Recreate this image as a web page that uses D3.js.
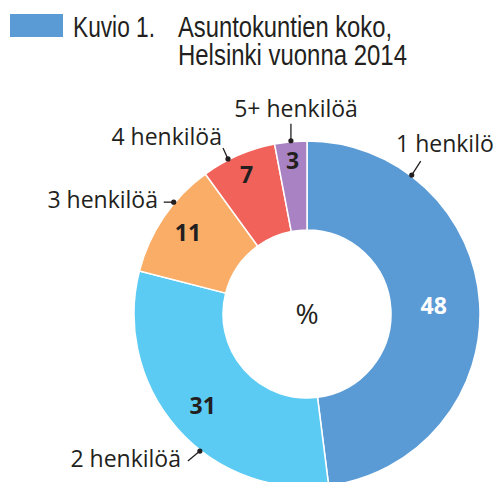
<!DOCTYPE html>
<html lang="fi">
<head>
<meta charset="UTF-8">
<title>Asuntokuntien koko</title>
<script src="https://cdn.jsdelivr.net/npm/d3@7"></script>
<style>
    body { margin: 0; background: #fff; }
    svg { display: block; }
    .title { font-family: "Liberation Sans Narrow", "Liberation Sans", Arial, sans-serif; font-size: 30px; fill: #231f20; }
    .lbl { font-family: "Open Sans", "Noto Sans", sans-serif; font-size: 23px; fill: #231f20; }
    .val { font-family: "Open Sans", "Noto Sans", sans-serif; font-size: 23px; font-weight: bold; }
</style>
</head>
<body>
<svg id="chart" width="493" height="482"></svg>
<script>
// data
const categories = ['1 henkilö', '2 henkilöä', '3 henkilöä', '4 henkilöä', '5+ henkilöä'];
const shares = [48, 31, 11, 7, 3];
const colors = ['#5b9bd5', '#5ccbf3', '#f9ad66', '#f1635a', '#a882c2'];
const valueColors = ['#fff', '#231f20', '#231f20', '#231f20', '#231f20'];

// layout of the labels: value label radius, callout dot angle (deg from top), line end, label point
const valueRadius = [127, 139, 144, 152, 154];
const callouts = [
    { ang: 37, dx: 9, dy: -14, tx: 396, ty: 152, anchor: 'start' },
    { ang: 218, dx: -12, dy: 10, tx: 181, ty: 467, anchor: 'end' },
    { ang: 310, dx: -10, dy: 0, tx: 158, ty: 208, anchor: 'end' },
    { ang: 333, dx: -5, dy: -11, tx: 222, ty: 145, anchor: 'end' },
    { ang: 354.7, dx: 0, dy: -17, tx: 296, ty: 117, anchor: 'middle' }
];

const svg = d3.select('#chart');
const cx = 307, cy = 314, rOut = 173, rIn = 84;

// title
svg.append('rect').attr('x', 10).attr('y', 14).attr('width', 53).attr('height', 23).attr('fill', '#5b9bd5');
const titleLines = [
    { x: 73, y: 37, w: 82, t: 'Kuvio 1.' },
    { x: 178, y: 37, w: 214, t: 'Asuntokuntien koko,' },
    { x: 178, y: 65, w: 229, t: 'Helsinki vuonna 2014' }
];
titleLines.forEach(l => {
    svg.append('text').attr('class', 'title').attr('x', l.x).attr('y', l.y)
        .attr('textLength', l.w).attr('lengthAdjust', 'spacingAndGlyphs').text(l.t);
});

const pie = d3.pie().sort(null).value(d => d);
const arcs = pie(shares);
const arc = d3.arc().innerRadius(rIn).outerRadius(rOut);

const g = svg.append('g').attr('transform', `translate(${cx},${cy})`);

g.selectAll('path')
    .data(arcs)
    .enter()
    .append('path')
    .attr('d', arc)
    .attr('fill', (d, i) => colors[i])
    .attr('stroke', '#fff')
    .attr('stroke-width', 1.5);

g.selectAll('text.val')
    .data(arcs)
    .enter()
    .append('text')
    .attr('class', 'val')
    .attr('transform', (d, i) => {
        const c = d3.arc().innerRadius(valueRadius[i]).outerRadius(valueRadius[i]).centroid(d);
        return `translate(${c})`;
    })
    .attr('text-anchor', 'middle')
    .attr('dy', '0.36em')
    .attr('fill', (d, i) => valueColors[i])
    .text(d => d.data);

g.append('text').attr('class', 'lbl').attr('x', 0).attr('y', 10)
    .attr('text-anchor', 'middle').style('font-size', '28px').text('%');

// callouts
callouts.forEach((c, i) => {
    const a = c.ang * Math.PI / 180;
    const px = cx + Math.sin(a) * (rOut + 1), py = cy - Math.cos(a) * (rOut + 1);
    svg.append('line').attr('x1', px).attr('y1', py).attr('x2', px + c.dx).attr('y2', py + c.dy)
        .attr('stroke', '#231f20').attr('stroke-width', 1.3);
    svg.append('circle').attr('cx', px).attr('cy', py).attr('r', 2.6).attr('fill', '#231f20');
    svg.append('text').attr('class', 'lbl').attr('x', c.tx).attr('y', c.ty)
        .attr('text-anchor', c.anchor).text(categories[i]);
});
</script>
</body>
</html>
